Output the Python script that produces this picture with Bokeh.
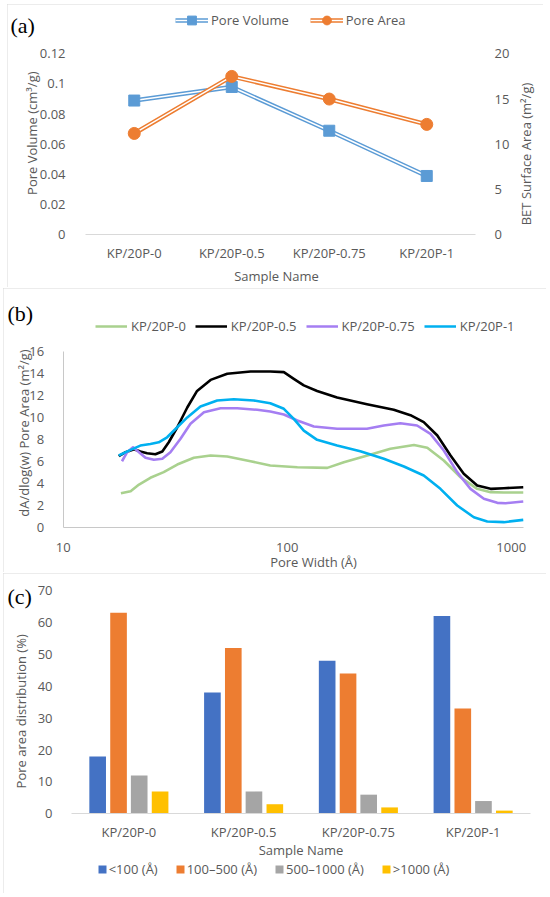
import math
from bokeh.plotting import figure
from bokeh.models import (Range1d, LinearAxis, Legend, LegendItem, Label,
                          FixedTicker, NumeralTickFormatter, CustomJSTickFormatter,
                          ColumnDataSource)
from bokeh.transform import dodge
from bokeh.layouts import column
from bokeh.embed import file_html
from bokeh.resources import INLINE

FONT = "Open Sans"
SERIF = "Liberation Serif"
TXT = "#595959"
AXC = "#D9D9D9"
BORDER = {"outline": "1px solid #D9D9D9", "outline-offset": "-1px"}

# ---------------- data ----------------
samples = ["KP/20P-0", "KP/20P-0.5", "KP/20P-0.75", "KP/20P-1"]

# (a)
pore_volume = [0.089, 0.098, 0.069, 0.039]      # cm3/g  (left axis)
pore_area = [11.2, 17.5, 15.0, 12.2]            # m2/g   (right axis)

# (b)  pore width (Å) / dA/dlog(w) pore area (m2/g)
w_0 = [18.1, 20, 21.8, 24.5, 28.1, 32.3, 38.3, 45.5, 54, 68.6, 84, 111, 151, 179,
       228, 289, 368, 422, 500, 594, 705, 809, 927, 1132]
a_0 = [3.13, 3.32, 3.92, 4.53, 5.04, 5.73, 6.34, 6.55, 6.46, 6.03, 5.64, 5.49, 5.43,
       5.94, 6.55, 7.16, 7.5, 7.25, 6.1, 4.58, 3.53, 3.23, 3.2, 3.2]

w_05 = [17.7, 19.0, 20.7, 22.1, 23.7, 25.8, 27.7, 29.6, 32.3, 35.8, 39.6, 45.5, 54,
        68.6, 84, 96.6, 107, 118.6, 136, 167, 227, 299, 355, 407, 468, 536, 614, 705,
        809, 927, 1132]
a_05 = [6.49, 6.85, 7.12, 6.91, 6.76, 6.67, 6.91, 7.75, 9.11, 10.9, 12.4, 13.4, 13.95,
        14.16, 14.16, 14.1, 13.5, 12.9, 12.4, 11.8, 11.2, 10.7, 10.2, 9.57, 8.36, 6.55,
        4.89, 3.83, 3.53, 3.59, 3.68]

w_075 = [18.3, 19.3, 20.5, 21.8, 23.3, 25.4, 27.7, 30.1, 33.4, 37, 42.5, 50.4, 59.8,
         73.5, 84, 96.6, 111, 131.5, 167, 227, 270, 320, 380, 436, 500, 574, 658, 755,
         867, 944, 1132]
a_075 = [6.03, 6.85, 7.3, 6.85, 6.34, 6.16, 6.25, 6.85, 8.06, 9.42, 10.47, 10.83, 10.83,
         10.69, 10.53, 10.26, 9.72, 9.18, 8.97, 8.97, 9.27, 9.47, 9.27, 8.51, 7.0, 5.04,
         3.53, 2.63, 2.26, 2.23, 2.38]

w_1 = [17.7, 20, 22.1, 24.5, 26.7, 29.1, 32.3, 35.8, 41, 48.7, 57.8, 71, 84, 96.6, 107,
       118.6, 136, 167, 212, 270, 332, 407, 483, 574, 681, 782, 927, 1132]
a_1 = [6.55, 7.06, 7.45, 7.6, 7.75, 8.2, 9.11, 10.0, 10.99, 11.53, 11.65, 11.53, 11.29,
       10.78, 9.87, 8.81, 7.97, 7.45, 6.94, 6.25, 5.55, 4.74, 3.53, 2.02, 0.96, 0.57,
       0.51, 0.72]

b_series = ["KP/20P-0", "KP/20P-0.5", "KP/20P-0.75", "KP/20P-1"]
b_xticks = [10, 100, 1000]
b_yticks = [0, 2, 4, 6, 8, 10, 12, 14, 16]

# (c)
size_classes = ["<100 (Å)", "100–500 (Å)", "500–1000 (Å)", ">1000 (Å)"]
pct_lt100 = [18, 38, 48, 62]
pct_100_500 = [63, 52, 44, 33]
pct_500_1000 = [12, 7, 6, 4]
pct_gt1000 = [7, 3, 2, 1]

a_left_ticks = [0, 0.02, 0.04, 0.06, 0.08, 0.1, 0.12]
a_right_ticks = [0, 5, 10, 15, 20]
c_yticks = [0, 10, 20, 30, 40, 50, 60, 70]


# ---------------- helpers ----------------
def span(v_lo, px_lo, v_hi, px_hi, size):
    """range ends so that v_lo / v_hi land on pixels px_lo / px_hi of a frame of `size` px"""
    k = (v_hi - v_lo) / (px_hi - px_lo)
    return v_lo - px_lo * k, v_lo + (size - px_lo) * k


def style_axis(ax, line=True):
    ax.axis_line_color = AXC if line else None
    ax.major_tick_line_color = None
    ax.minor_tick_line_color = None
    ax.major_label_text_font = FONT
    ax.major_label_text_font_size = "13px"
    ax.major_label_text_color = TXT
    ax.axis_label_text_font = FONT
    ax.axis_label_text_font_size = "13px"
    ax.axis_label_text_color = TXT
    ax.axis_label_text_font_style = "normal"


def base(p):
    p.grid.visible = False
    p.outline_line_color = None
    p.background_fill_color = "white"
    p.border_fill_color = "white"


def text_label(p, x, y, text, angle=0.0):
    p.add_layout(Label(x=x, y=y, x_units="screen", y_units="screen", text=text, angle=angle,
                       text_font=FONT, text_font_size="13px", text_color=TXT,
                       text_align="center", text_baseline="middle"))


def panel_label(p, x, y, text):
    p.add_layout(Label(x=x, y=y, x_units="screen", y_units="screen", text=text,
                       text_font=SERIF, text_font_size="22px", text_font_style="normal",
                       text_color="black", text_align="left", text_baseline="middle"))


def make_legend(items, loc, gw, gh, standoff, spacing, lh=20):
    return Legend(items=items, location=loc, orientation="horizontal",
                  glyph_width=gw, glyph_height=gh, label_standoff=standoff, label_height=lh,
                  spacing=spacing, padding=0, margin=0, border_line_color=None,
                  background_fill_alpha=0, label_text_font=FONT,
                  label_text_font_size="13px", label_text_color=TXT)


cat_formatter = CustomJSTickFormatter(args=dict(labels=samples),
                                      code="return labels[Math.round(tick - 0.5)];")
cat_x = [i + 0.5 for i in range(len(samples))]
cat_ticks = FixedTicker(ticks=cat_x)

# ---------------- (a) ----------------
BLUE = "#5B9BD5"
ORANGE = "#ED7D31"
WA, HA = 536, 283
pa = figure(width=WA, height=HA, x_range=Range1d(*span(0, 78, 4, 468, WA)),
            y_range=Range1d(*span(0, 52.7, 0.12, 233.7, HA)),
            output_backend="svg", toolbar_location=None, min_border=0,
            margin=(4, 0, 0, 7), styles=BORDER)
base(pa)
pa.extra_y_ranges = {"area": Range1d(*span(0, 52.7, 20, 233.7, HA))}

src_a = ColumnDataSource(dict(x=cat_x, sample=samples, vol=pore_volume, area=pore_area))
v1 = pa.line("x", "vol", source=src_a, line_color=BLUE, line_width=4.5)
v2 = pa.line("x", "vol", source=src_a, line_color="white", line_width=1.5)
v3 = pa.scatter("x", "vol", source=src_a, marker="square", size=11,
                fill_color=BLUE, line_color=BLUE)
o1 = pa.line("x", "area", source=src_a, y_range_name="area", line_color=ORANGE, line_width=4.5)
o2 = pa.line("x", "area", source=src_a, y_range_name="area", line_color="white", line_width=1.5)
o3 = pa.scatter("x", "area", source=src_a, y_range_name="area", marker="circle", size=12,
                fill_color=ORANGE, line_color=ORANGE)

ax = pa.xaxis[0]
style_axis(ax)
ax.fixed_location = 0
ax.bounds = (0, len(samples))
ax.ticker = cat_ticks
ax.formatter = cat_formatter
ax.major_label_standoff = 3

ly = pa.yaxis[0]
style_axis(ly, line=False)
ly.fixed_location = 0
ly.ticker = FixedTicker(ticks=a_left_ticks)
ly.formatter = NumeralTickFormatter(format="0.[00]")
ly.major_label_standoff = 14

ry = LinearAxis(y_range_name="area", fixed_location=len(samples))
style_axis(ry, line=False)
ry.ticker = FixedTicker(ticks=a_right_ticks)
ry.major_label_standoff = 13
pa.add_layout(ry, "right")

text_label(pa, 24.7, HA - 128.7, "Pore Volume (cm³/g)", angle=math.pi / 2)
text_label(pa, 518, HA - 149.5, "BET Surface Area (m²/g)", angle=math.pi / 2)
text_label(pa, 269, HA - 271, "Sample Name")

leg_a = make_legend([LegendItem(label="Pore Volume", renderers=[v1, v2, v3]),
                     LegendItem(label="Pore Area", renderers=[o1, o2, o3])],
                    (168, HA - 5 - 22), 33, 22, 3, 21)
pa.add_layout(leg_a, "center")
panel_label(pa, 3, HA - 21, "(a)")

# ---------------- (b) ----------------
b_colors = ["#A9D18E", "#000000", "#A57EF2", "#00B0F0"]
WB, HB = 543, 284
lx0, lx1 = span(1, 59.7, 3, 59.7 + 448, WB)
pb = figure(width=WB, height=HB, x_axis_type="log", x_range=Range1d(10 ** lx0, 10 ** lx1),
            y_range=Range1d(*span(0, 44.7, 16, 221.3, HB)),
            output_backend="svg", toolbar_location=None, min_border=0,
            margin=(1, 0, 0, 3), styles=BORDER)
base(pb)
rb = []
for ws, vs, c in zip([w_0, w_05, w_075, w_1], [a_0, a_05, a_075, a_1], b_colors):
    rb.append(pb.line(ws, vs, line_color=c, line_width=2.6, line_join="round"))

bx = pb.xaxis[0]
style_axis(bx)
bx.axis_line_color = "#C8C8C8"
bx.fixed_location = 0
bx.bounds = (10, max(w_0[-1], w_1[-1]))
bx.ticker = FixedTicker(ticks=b_xticks)
bx.formatter = NumeralTickFormatter(format="0")
bx.major_label_standoff = 9

by = pb.yaxis[0]
style_axis(by)
by.axis_line_color = "#C8C8C8"
by.fixed_location = 10
by.bounds = (0, 16)
by.ticker = FixedTicker(ticks=b_yticks)
by.major_label_standoff = 13

text_label(pb, 20, HB - 144.5, "dA/dlog(w) Pore Area (m²/g)", angle=math.pi / 2)
text_label(pb, 310, HB - 273, "Pore Width (Å)")

leg_b = make_legend([LegendItem(label=n, renderers=[r]) for n, r in zip(b_series, rb)],
                    (92, HB - 27.7 - 20), 32, 20, 4, 9)
pb.add_layout(leg_b, "center")
panel_label(pb, 4, HB - 25, "(b)")

# ---------------- (c) ----------------
c_colors = ["#4472C4", "#ED7D31", "#A5A5A5", "#FFC000"]
WC, HC = 543, 320
pc = figure(width=WC, height=HC, x_range=Range1d(*span(0, 68, 4, 527, WC)),
            y_range=Range1d(*span(0, 79.7, 70, 303, HC)),
            output_backend="svg", toolbar_location=None, min_border=0,
            margin=(1, 0, 0, 3), styles=BORDER)
base(pc)
src_c = ColumnDataSource(dict(x=cat_x, sample=samples, s0=pct_lt100, s1=pct_100_500,
                              s2=pct_500_1000, s3=pct_gt1000))
offsets = [-0.272, -0.09, 0.09, 0.272]
rc = []
for key, off, col in zip(["s0", "s1", "s2", "s3"], offsets, c_colors):
    rc.append(pc.vbar(x=dodge("x", off), top=key, width=0.145,
                      source=src_c, fill_color=col, line_color=None))

cx = pc.xaxis[0]
style_axis(cx)
cx.fixed_location = 0
cx.bounds = (0, len(samples))
cx.ticker = cat_ticks
cx.formatter = cat_formatter
cx.major_label_standoff = 3
cx.axis_label = "Sample Name"
cx.axis_label_standoff = -3

cy = pc.yaxis[0]
style_axis(cy, line=False)
cy.fixed_location = 0
cy.ticker = FixedTicker(ticks=c_yticks)
cy.major_label_standoff = 13

text_label(pc, 17, HC - 137.8, "Pore area distribution (%)", angle=math.pi / 2)

leg_c = make_legend([LegendItem(label=n, renderers=[r]) for n, r in zip(size_classes, rc)],
                    (93.7, HC - 287.3 - 18), 10, 10, 2, 17, lh=18)
pc.add_layout(leg_c, "center")
panel_label(pc, 4, HC - 23, "(c)")

layout = column(pa, pb, pc, spacing=0)
open("out.html", "w").write(file_html(layout, INLINE))
